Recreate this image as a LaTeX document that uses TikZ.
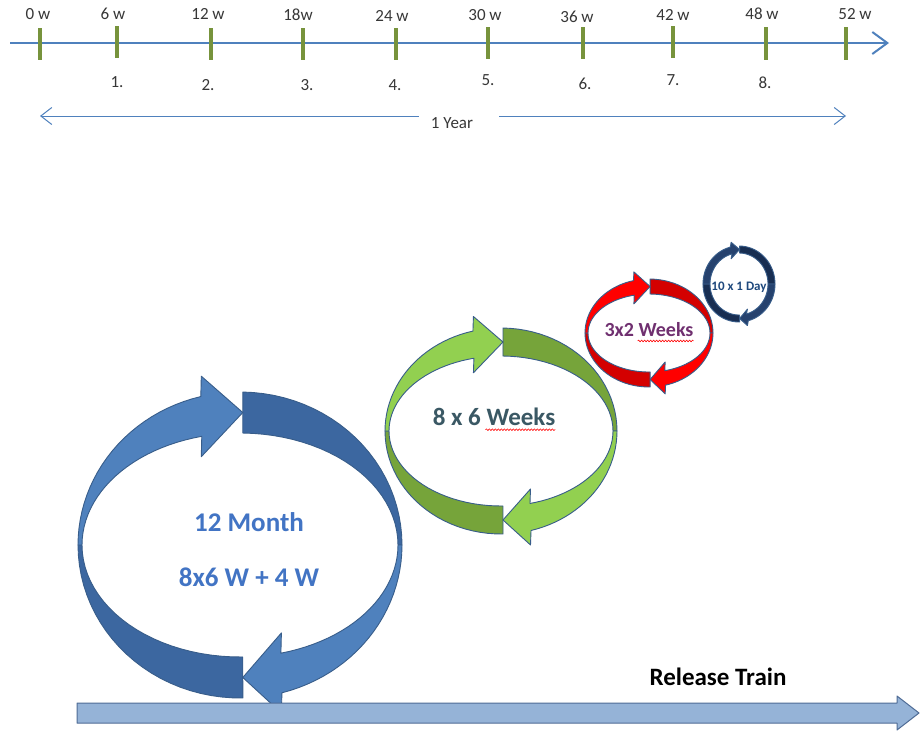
\documentclass[tikz,border=0pt]{standalone}
\usepackage{fontspec}
\setmainfont{Carlito}
\usepackage{xcolor}
\usepackage{tikz}
\usetikzlibrary{arrows.meta, decorations.pathmorphing}
\definecolor{RTAxis}{RGB}{79,129,189}
\definecolor{RTTick}{RGB}{119,147,60}
\definecolor{RTLabel}{RGB}{55,55,55}
\definecolor{RTOutline}{RGB}{56,93,138}
\definecolor{RTBlueLight}{RGB}{79,129,189}
\definecolor{RTBlueDark}{RGB}{60,103,160}
\definecolor{RTGreenLight}{RGB}{146,208,80}
\definecolor{RTGreenDark}{RGB}{118,164,58}
\definecolor{RTRedLight}{RGB}{255,0,0}
\definecolor{RTRedDark}{RGB}{212,0,0}
\definecolor{RTNavyLight}{RGB}{38,66,110}
\definecolor{RTNavyDark}{RGB}{24,46,82}
\definecolor{RTMonthText}{RGB}{66,116,196}
\definecolor{RTSlateText}{RGB}{58,88,100}
\definecolor{RTPlumText}{RGB}{112,48,112}
\definecolor{RTNavyText}{RGB}{31,73,125}
\definecolor{RTTrainFill}{RGB}{149,179,215}
\definecolor{RTTrainLine}{RGB}{79,108,150}

\tikzset{
  axisline/.style={RTAxis, line width=2pt},
  tickmark/.style={RTTick, line width=3.5pt},
  weeklabel/.style={inner sep=0pt, text=RTLabel, font=\fontsize{17}{19}\selectfont},
  spanarrow/.style={RTAxis, line width=1pt, -{Straight Barb[length=11pt,width=17pt]}},
  ringline/.style={draw=RTOutline, line width=0.9pt, line join=round},
  spellwave/.style={red, line width=0.6pt, decorate,
    decoration={snake, amplitude=0.8pt, segment length=3pt}},
  trainarrow/.style={draw=RTTrainLine, fill=RTTrainFill, line width=1pt, line join=round}
}

% ring of two bent arrows: cx, cy, outer rx, outer ry, inner rx, inner ry, head, light, dark
\newcommand{\cyclering}[9]{%
  \filldraw[ringline, fill=#9]
    plot[domain=89:0] ({#1+#3*cos(\x)},{#2-#4*sin(\x)})
    -- plot[domain=0:89] ({#1+#5*cos(\x)},{#2-#6*sin(\x)}) -- cycle;
  \filldraw[ringline, fill=#9]
    plot[domain=271:180] ({#1+#3*cos(\x)},{#2-#4*sin(\x)})
    -- plot[domain=180:271] ({#1+#5*cos(\x)},{#2-#6*sin(\x)}) -- cycle;
  \filldraw[ringline, fill=#8]
    plot[domain=180:104] ({#1+#3*cos(\x)},{#2-#4*sin(\x)})
    -- ({#1+(#3+#5)/2*cos(104)},{#2-(#4+#7)*sin(104)})
    -- ({#1+(#3+#5)/2*cos(89)},{#2-(#4+#6)/2*sin(89)})
    -- ({#1+(#3+#5)/2*cos(104)},{#2-(#6-#7)*sin(104)})
    -- plot[domain=104:180] ({#1+#5*cos(\x)},{#2-#6*sin(\x)}) -- cycle;
  \filldraw[ringline, fill=#8]
    plot[domain=0:-75] ({#1+#3*cos(\x)},{#2-#4*sin(\x)})
    -- ({#1+(#3+#5)/2*cos(-75)},{#2-(#4+#7)*sin(-75)})
    -- ({#1+(#3+#5)/2*cos(-89)},{#2-(#4+#6)/2*sin(-89)})
    -- ({#1+(#3+#5)/2*cos(-75)},{#2-(#6-#7)*sin(-75)})
    -- plot[domain=-75:0] ({#1+#5*cos(\x)},{#2-#6*sin(\x)}) -- cycle;
}

\begin{document}
\begin{tikzpicture}[x=1pt,y=-1pt]
  \path[use as bounding box, fill=white] (0,0) rectangle (924,742);

  % Time axis
  \draw[axisline, -{Straight Barb[length=15pt,width=22pt]}] (10,43) -- (889,43);
  \draw[tickmark] (40,28) -- (40,60);
  \draw[tickmark] (117,26) -- (117,58);
  \draw[tickmark] (211,28) -- (211,60);
  \draw[tickmark] (303,28) -- (303,60);
  \draw[tickmark] (396,28) -- (396,60);
  \draw[tickmark] (488,27) -- (488,59);
  \draw[tickmark] (583,27) -- (583,59);
  \draw[tickmark] (673,26) -- (673,58);
  \draw[tickmark] (766,27) -- (766,60);
  \draw[tickmark] (846,27) -- (846,60);

  \node[weeklabel] (w0) at (38,14) {0 w};
  \node[weeklabel] (w6) at (113,14) {6 w};
  \node[weeklabel] (w12) at (208,14) {12 w};
  \node[weeklabel] (w18) at (298,15) {18w};
  \node[weeklabel] (w24) at (392,16) {24 w};
  \node[weeklabel] (w30) at (485,15) {30 w};
  \node[weeklabel] (w36) at (577,17) {36 w};
  \node[weeklabel] (w42) at (673,15) {42 w};
  \node[weeklabel] (w48) at (762,14) {48 w};
  \node[weeklabel] (w52) at (855,14) {52 w};

  \node[weeklabel] (n1) at (117,82) {1.};
  \node[weeklabel] (n2) at (208,85) {2.};
  \node[weeklabel] (n3) at (307,85) {3.};
  \node[weeklabel] (n4) at (395,85) {4.};
  \node[weeklabel] (n5) at (488,80) {5.};
  \node[weeklabel] (n6) at (585,84) {6.};
  \node[weeklabel] (n7) at (673,80) {7.};
  \node[weeklabel] (n8) at (765,83) {8.};

  % One year span
  \coordinate (yearstart) at (40,116);
  \coordinate (yearend) at (846,116);
  \node[weeklabel] (year) at (452,123) {1 Year};
  \draw[spanarrow] ([xshift=-12pt,yshift=7pt]year.west) -- (yearstart);
  \draw[spanarrow] ([xshift=26pt,yshift=7pt]year.east) -- (yearend);

  % Cycles
  \cyclering{240}{545}{162}{153}{158}{112}{21}{RTBlueLight}{RTBlueDark}
  \cyclering{501}{431}{116}{103}{112}{75}{15}{RTGreenLight}{RTGreenDark}
  \cyclering{649}{333}{64}{54}{61}{39}{9}{RTRedLight}{RTRedDark}
  \cyclering{739}{284}{36}{38}{29}{31}{5}{RTNavyLight}{RTNavyDark}

  \node[text=RTMonthText, font=\fontsize{27}{30}\selectfont\bfseries] (month) at (249,522) {12 Month};
  \node[text=RTMonthText, font=\fontsize{27}{30}\selectfont\bfseries] (mix) at (249,577) {8x6 W + 4 W};
  \node[inner sep=0pt, text=RTSlateText, font=\fontsize{25}{28}\selectfont\bfseries] (six) at (494,417) {8 x 6 Weeks};
  \node[inner sep=0pt, text=RTPlumText, font=\fontsize{20}{22}\selectfont\bfseries] (two) at (649,330) {3x2 Weeks};
  \node[inner sep=0pt, text=RTNavyText, font=\fontsize{13}{15}\selectfont\bfseries] (day) at (739,287) {10 x 1 Day};
  \draw[spellwave] ([xshift=-70pt,yshift=-4pt]six.base east) -- ([yshift=-4pt]six.base east);
  \draw[spellwave] ([xshift=-56pt,yshift=-4pt]two.base east) -- ([yshift=-4pt]two.base east);

  % Release train
  \node[font=\fontsize{25}{28}\selectfont\bfseries] (train) at (718,677) {Release Train};
  \filldraw[trainarrow] (77,703) -- (897,703) -- (897,696) -- (919,713)
    -- (897,730) -- (897,723) -- (77,723) -- cycle;
\end{tikzpicture}
\end{document}
